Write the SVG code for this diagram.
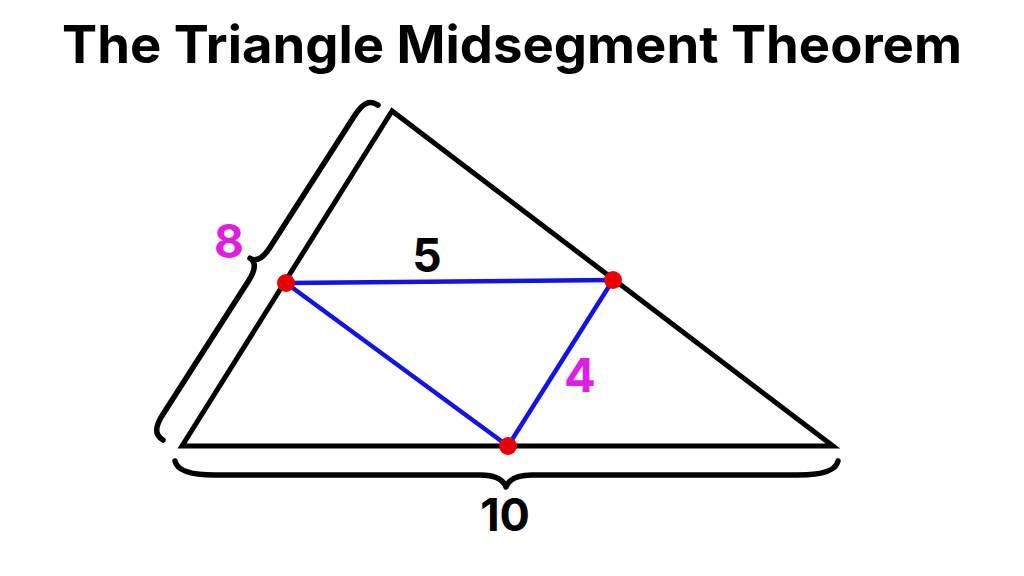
<svg xmlns="http://www.w3.org/2000/svg" width="1024" height="576" viewBox="0 0 1024 576">
  <style>
    .tri { fill: none; stroke: #000; stroke-width: 5; stroke-linejoin: miter; }
    .brace { fill: none; stroke: #000; stroke-width: 5.5; stroke-linecap: round; stroke-linejoin: round; }
    .seg { stroke: #1414e0; stroke-width: 4.5; stroke-linecap: round; }
    .dot { fill: #e60000; }
    .lbl { font-family: Inter, "Noto Sans", "Liberation Sans", sans-serif; font-weight: 700; text-anchor: middle; }
    .mag { fill: #e01ee0; }
    .blk { fill: #000; }
  </style>
  <rect width="1024" height="576" fill="#fff"/>
  <text id="title" x="512" y="63" class="lbl blk" font-size="52" textLength="900" lengthAdjust="spacingAndGlyphs">The Triangle Midsegment Theorem</text>

  <g id="triangle">
    <polygon class="tri" points="392,111 182,446 833,446"/>
  </g>

  <g id="connectors">
    <line class="seg" x1="286" y1="283" x2="613" y2="280"/>
    <line class="seg" x1="286" y1="283" x2="508" y2="446"/>
    <line class="seg" x1="613" y1="280" x2="508" y2="446"/>
  </g>

  <g id="braces">
    <path id="brace-left" class="brace" transform="translate(163,440) rotate(-57.3)" d="M0,0 C0,-10 6,-14 22,-14 L180,-14 C194,-14 200,-18 200,-25 C200,-18 206,-14 220,-14 L376,-14 C392,-14 398,-10 398,0"/>
    <path id="brace-bottom" class="brace" transform="translate(175,461)" d="M0,0 C2,10 16,14 40,14 L305,14 C320,14 328,18 331,26 C334,18 342,14 357,14 L623,14 C647,14 661,10 663,0"/>
  </g>

  <g id="midpoint-left"><circle class="dot" cx="286" cy="283" r="9"/></g>
  <g id="midpoint-right"><circle class="dot" cx="613" cy="280" r="9"/></g>
  <g id="midpoint-bottom"><circle class="dot" cx="508" cy="446" r="9"/></g>

  <g id="labels">
    <text class="lbl mag" x="229" y="258" font-size="46">8</text>
    <text class="lbl blk" x="427" y="272" font-size="46">5</text>
    <text class="lbl mag" x="580" y="392" font-size="47">4</text>
    <text class="lbl blk" x="505" y="531" font-size="45">10</text>
  </g>
</svg>
